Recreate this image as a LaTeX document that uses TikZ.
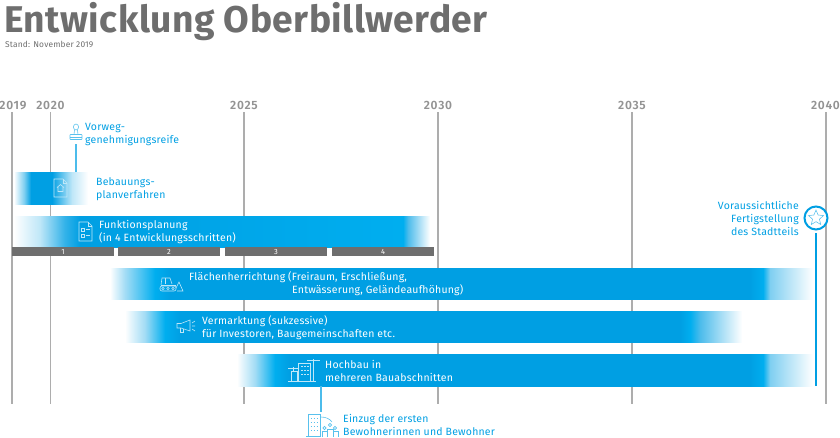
\documentclass[tikz,border=0pt]{standalone}
\usepackage{fontspec}
\setmainfont[LetterSpace=2]{Fira Sans}
\newfontfamily\yearfont[LetterSpace=6]{Fira Sans SemiBold}
\newfontfamily\titlefont[LetterSpace=1.2]{Fira Sans Bold}
\usetikzlibrary{shapes.geometric}
\definecolor{planblue}{HTML}{009FE3}
\definecolor{brightblue}{HTML}{00AEEF}
\definecolor{plangray}{HTML}{6E6E6E}
\definecolor{gridgray}{HTML}{ADADAD}
\colorlet{bluea}{planblue!25}
\colorlet{blueb}{planblue!50}
\colorlet{bluec}{planblue!70}
\colorlet{blued}{planblue!80}
\colorlet{bluem}{planblue!36}
\pgfdeclarehorizontalshading{bplanfade}{100bp}{color(0bp)=(white);color(25bp)=(white);color(31.8bp)=(blueb);color(36.5bp)=(planblue);color(50.7bp)=(planblue);color(56.1bp)=(bluec);color(64.2bp)=(bluea);color(75bp)=(white);color(100bp)=(white)}
\pgfdeclarehorizontalshading{funktionfade}{100bp}{color(0bp)=(white);color(25bp)=(white);color(28.1bp)=(bluea);color(31.1bp)=(blued);color(32.9bp)=(planblue);color(71.75bp)=(brightblue);color(72.35bp)=(bluec);color(75bp)=(white);color(100bp)=(white)}
\pgfdeclarehorizontalshading{flaechefade}{100bp}{color(0bp)=(white);color(25bp)=(white);color(26.07bp)=(bluem);color(28.2bp)=(brightblue);color(29.3bp)=(planblue);color(70.5bp)=(planblue);color(71.44bp)=(brightblue);color(71.94bp)=(blueb);color(75bp)=(white);color(100bp)=(white)}
\pgfdeclarehorizontalshading{marktfade}{100bp}{color(0bp)=(white);color(25bp)=(white);color(26.6bp)=(bluem);color(28.24bp)=(brightblue);color(29.5bp)=(planblue);color(70bp)=(planblue);color(70.8bp)=(brightblue);color(71.6bp)=(bluec);color(75bp)=(white);color(100bp)=(white)}
\pgfdeclarehorizontalshading{hochbaufade}{100bp}{color(0bp)=(white);color(25bp)=(white);color(26.56bp)=(bluem);color(28.3bp)=(brightblue);color(29.5bp)=(planblue);color(69.5bp)=(planblue);color(70.66bp)=(brightblue);color(71.27bp)=(blueb);color(75bp)=(white);color(100bp)=(white)}
\tikzset{
    year label/.style={font=\yearfont\fontsize{12}{12}\selectfont,text=gridgray!85!black,inner sep=1pt},
    grid line/.style={draw=gridgray,line width=1.5pt},
    bar part/.style={inner sep=0pt,outer sep=0pt,anchor=west,shade,shading angle=0},
    step part/.style={inner sep=0pt,outer sep=0pt,anchor=west,fill=plangray,minimum height=9pt,minimum width=102pt,text=white,font=\fontsize{7.5}{7.5}\selectfont},
    white text/.style={inner sep=0pt,anchor=west,align=left,text=white,font=\fontsize{10.5}{13}\selectfont},
    blue text/.style={inner sep=0pt,anchor=west,align=left,text=planblue,font=\fontsize{10.5}{13}\selectfont},
    link line/.style={draw=planblue!70,line width=1.2pt},
    white icon/.style={draw=white!75!planblue,line width=.6pt},
    blue icon/.style={draw=planblue!65,line width=.6pt},
}
\begin{document}
\begin{tikzpicture}[x=1pt,y=-1pt]
  \useasboundingbox (0,0) rectangle (840,437);

  % heading
  \node[inner sep=0pt,anchor=base west,text=plangray,font=\titlefont\fontsize{37.2}{37.2}\selectfont] (title) at (4,32.5) {Entwicklung Oberbillwerder};
  \node[inner sep=0pt,anchor=west,text=plangray,font=\fontsize{8.4}{9}\selectfont] (stand) at (5,44) {Stand: November 2019};

  % years
  \foreach \x/\lx/\yr in {12/13/2019,50.5/50.5/2020,244/244/2025,438/438/2030,632/632/2035,826/825.5/2040} {
    \node[year label] (y\yr) at (\lx,105.5) {\yr};
    \coordinate (s\yr) at (\x,112);
    \coordinate (e\yr) at (\x,404);
    \draw[grid line] (s\yr) -- (e\yr);
  }

  % bars
  \node[bar part,shading=bplanfade,minimum width=74pt,minimum height=32pt] (bplan) at (14,188) {};
  \node[bar part,shading=funktionfade,minimum width=416pt,minimum height=31pt] (funktion) at (14,231.5) {};
  \node[bar part,shading=flaechefade,minimum width=703pt,minimum height=31pt] (flaeche) at (110,283.5) {};
  \node[bar part,shading=marktfade,minimum width=617pt,minimum height=31pt] (markt) at (125,326.5) {};
  \node[bar part,shading=hochbaufade,minimum width=576pt,minimum height=32pt] (hochbau) at (237,370) {};

  % steps below the planning bar
  \foreach \x/\n in {12/1,118/2,225/3,332/4}
    \node[step part] (step\n) at (\x,251.5) {\n};

  % labels
  \node[white text] (funktionT) at (99,232.2) {Funktionsplanung\\(in 4 Entwicklungsschritten)};
  \node[white text] (flaecheT) at (189,277.6) {Flächenherrichtung (Freiraum, Erschließung,};
  \node[white text] (flaecheU) at (292,290.4) {Entwässerung, Geländeaufhöhung)};
  \node[white text] (marktT) at (202,327.2) {Vermarktung (sukzessive)\\für Investoren, Baugemeinschaften etc.};
  \node[white text] (hochbauT) at (325,370.8) {Hochbau in\\mehreren Bauabschnitten};
  \node[blue text] (bplanT) at (96,189) {Bebauungs-\\planverfahren};
  \node[blue text] (vorwegT) at (85,134.8) {Vorweg-\\genehmigungsreife};
  \node[blue text] (einzugT) at (343,424.8) {Einzug der ersten\\Bewohnerinnen und Bewohner};
  \node[blue text,anchor=east,align=right] (fertigT) at (799,218.2) {Voraussichtliche\\Fertigstellung\\des Stadtteils};

  % milestones
  \node[circle,draw=planblue,line width=2pt,fill=white,minimum size=23pt,inner sep=0pt] (fertig) at (816,218) {};
  \node[star,star points=5,star point ratio=2.2,draw=planblue!70,line width=.5pt,minimum size=16pt,inner sep=0pt] (stern) at (fertig) {};
  \coordinate (fertigA) at (816,233);
  \coordinate (fertigE) at (816,386);
  \draw[draw=planblue,line width=2pt] (fertigA) -- (fertigE);
  \coordinate (vorwegA) at (76,144);
  \coordinate (vorwegB) at (76,172);
  \draw[link line] (vorwegA) -- (vorwegB);
  \coordinate (einzugA) at (321,386);
  \coordinate (einzugB) at (321,412);
  \draw[link line] (einzugA) -- (einzugB);

  % icons
  \begin{scope}[blue icon]
    \draw (76,127) ellipse (2.6pt and 3pt);
    \draw (74.5,130) -- (74,134.5) (77.5,130) -- (78,134.5);
    \draw[rounded corners=.5pt] (70,134.5) rectangle (82,139.5);
    \draw (70,137) -- (82,137);
  \end{scope}
  \begin{scope}[white icon]
    \draw (54,179) -- (63,179) -- (67,183) -- (67,197) -- (54,197) -- cycle;
    \draw (63,179) -- (63,183) -- (67,183);
    \draw (57,187.5) -- (60.5,184.5) -- (64,187.5) (58,187) -- (58,191.5) -- (63,191.5) -- (63,187);
    \draw (79,222) -- (88,222) -- (92,226) -- (92,241) -- (79,241) -- cycle;
    \draw (88,222) -- (88,226) -- (92,226);
    \draw (81,228) rectangle (84,231) (81,234) rectangle (84,237);
    \draw (85.5,229.5) -- (90,229.5) (85.5,235.5) -- (90,235.5);
    % bulldozer
    \draw (161,285) -- (162,278) -- (170,278) -- (172,284);
    \draw (165,278) -- (165,284) (161,285) -- (176,285);
    \draw[rounded corners=2pt] (160,286) rectangle (176,291);
    \draw (176,288) -- (179,282) -- (183,291) -- (177,291);
    \draw (163,288.5) circle (1.3pt) (168,288.5) circle (1.3pt) (173,288.5) circle (1.3pt);
    % megaphone
    \draw (181,323.5) -- (190,320) -- (190,331) -- (181,328) -- (177,328) -- (177,323.5) -- cycle;
    \draw (180,328) -- (180,332) -- (183,332) -- (183,329);
    \draw (192,323) -- (195,321) (192,326) -- (195,326) (192,329) -- (195,331);
    % crane and houses
    \draw (288,381) -- (316,381);
    \draw (291,381) -- (291,371) -- (297,371) -- (297,381) (293,371) -- (293,367) (288,368) -- (298,368);
    \draw (298.5,381) -- (298.5,363) -- (310,363) -- (310,381);
    \draw (313,381) -- (313,358.5) (307,360) -- (320,360);
    \foreach \a in {301,304,307}
      \foreach \b in {366,370,374}
        \draw (\a,\b) -- ++(1.5,0);
  \end{scope}
  \begin{scope}[blue icon]
    \draw (306,436.5) -- (321,436.5);
    \draw (308,436.5) -- (308,414) -- (320,414) -- (320,436.5);
    \foreach \a in {310.5,313.5,316.5}
      \foreach \b in {418,422,426,430}
        \draw (\a,\b) -- ++(1.5,0);
    \draw (321,417) .. controls (326,417) and (330,419) .. (332,422);
    \draw (330,425) circle (1.6pt) (324.5,428) circle (1.6pt) (335,428) circle (1.6pt);
    \draw (327,437) -- (327,429) -- (333,429) -- (333,437);
    \draw (322,437) -- (322,431) -- (327,431) (333,431) -- (338,431) -- (338,437);
  \end{scope}
\end{tikzpicture}
\end{document}
